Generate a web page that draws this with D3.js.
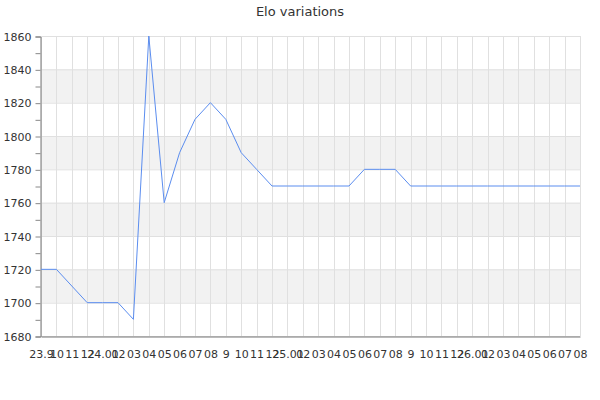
<!DOCTYPE html>
<html>
<head>
<meta charset="utf-8">
<script src="https://cdnjs.cloudflare.com/ajax/libs/d3/7.8.5/d3.min.js"></script>
<style>
  body { margin: 0; background: #fff; }
  svg { font-family: "DejaVu Sans", sans-serif; }
</style>
</head>
<body>
<div id="chart"></div>
<script>
// month labels, one per data point
var months = ['23.9', '10', '11', '12', '24.01', '02', '03', '04', '05', '06', '07', '08',
  '9', '10', '11', '12', '25.01', '02', '03', '04', '05', '06', '07', '08',
  '9', '10', '11', '12', '26.01', '02', '03', '04', '05', '06', '07', '08'];
var elo = [1720, 1720, 1710, 1700, 1700, 1700, 1690, 1860, 1760, 1790, 1810, 1820,
  1810, 1790, 1780, 1770, 1770, 1770, 1770, 1770, 1770, 1780, 1780, 1780,
  1770, 1770, 1770, 1770, 1770, 1770, 1770, 1770, 1770, 1770, 1770, 1770];
var yTicks = d3.range(1680, 1861, 20);
var yMinor = d3.range(1680, 1861, 10);

var width = 600,
  height = 400,
  margin = {top: 36, right: 20, bottom: 64, left: 41};

var x = d3.scaleLinear()
  .domain([0, months.length - 1])
  .range([margin.left, width - margin.right]);
var y = d3.scaleLinear()
  .domain([1680, 1860])
  .range([height - margin.bottom, margin.top]);

var svg = d3.select('#chart').append('svg')
  .attr('width', width)
  .attr('height', height);

svg.append('text')
  .attr('x', width / 2)
  .attr('y', 16)
  .attr('text-anchor', 'middle')
  .style('font-size', '13px')
  .style('fill', '#333')
  .text('Elo variations');

// alternating bands
svg.append('g')
  .selectAll('rect')
  .data(yTicks.slice(0, -1).filter(function(d, i) { return i % 2 === 1; }))
  .enter()
  .append('rect')
  .attr('x', x(0))
  .attr('width', x(months.length - 1) - x(0))
  .attr('y', function(d) { return y(d + 20); })
  .attr('height', function(d) { return y(d) - y(d + 20); })
  .style('fill', '#f2f2f2');

// grid
svg.append('g')
  .selectAll('line')
  .data(yTicks)
  .enter()
  .append('line')
  .attr('x1', x(0))
  .attr('x2', x(months.length - 1))
  .attr('y1', function(d) { return y(d) + 0.5; })
  .attr('y2', function(d) { return y(d) + 0.5; })
  .style('stroke', '#e0e0e0');

svg.append('g')
  .selectAll('line')
  .data(d3.range(months.length))
  .enter()
  .append('line')
  .attr('x1', function(d) { return Math.round(x(d)) + 0.5; })
  .attr('x2', function(d) { return Math.round(x(d)) + 0.5; })
  .attr('y1', y(1860))
  .attr('y2', y(1680))
  .style('stroke', '#e0e0e0');

// y axis
var yAxis = svg.append('g')
  .attr('transform', 'translate(' + (margin.left - 0.5) + ',0.5)')
  .call(d3.axisLeft(y).tickValues(yMinor).tickSize(5).tickPadding(4)
    .tickFormat(function(d) { return d % 20 === 0 ? d : ''; }));
yAxis.select('.domain').style('stroke', '#777');
yAxis.selectAll('.tick line').style('stroke', '#888');
yAxis.selectAll('text')
  .style('font-size', '11px')
  .style('font-family', '"DejaVu Sans", sans-serif')
  .style('fill', '#333');

// x axis
var xAxis = svg.append('g')
  .attr('transform', 'translate(0,' + (y(1680) + 0.5) + ')')
  .call(d3.axisBottom(x).tickValues(d3.range(months.length)).tickSize(0).tickPadding(14)
    .tickFormat(function(d) { return months[d]; }));
xAxis.select('.domain').style('stroke', '#777');
xAxis.selectAll('text')
  .style('font-size', '11px')
  .style('font-family', '"DejaVu Sans", sans-serif')
  .style('fill', '#333');

// line
svg.append('path')
  .datum(elo)
  .attr('d', d3.line()
    .x(function(d, i) { return x(i); })
    .y(function(d) { return y(d); }))
  .style('fill', 'none')
  .style('stroke', '#5b8def')
  .style('stroke-width', 1);
</script>
</body>
</html>
